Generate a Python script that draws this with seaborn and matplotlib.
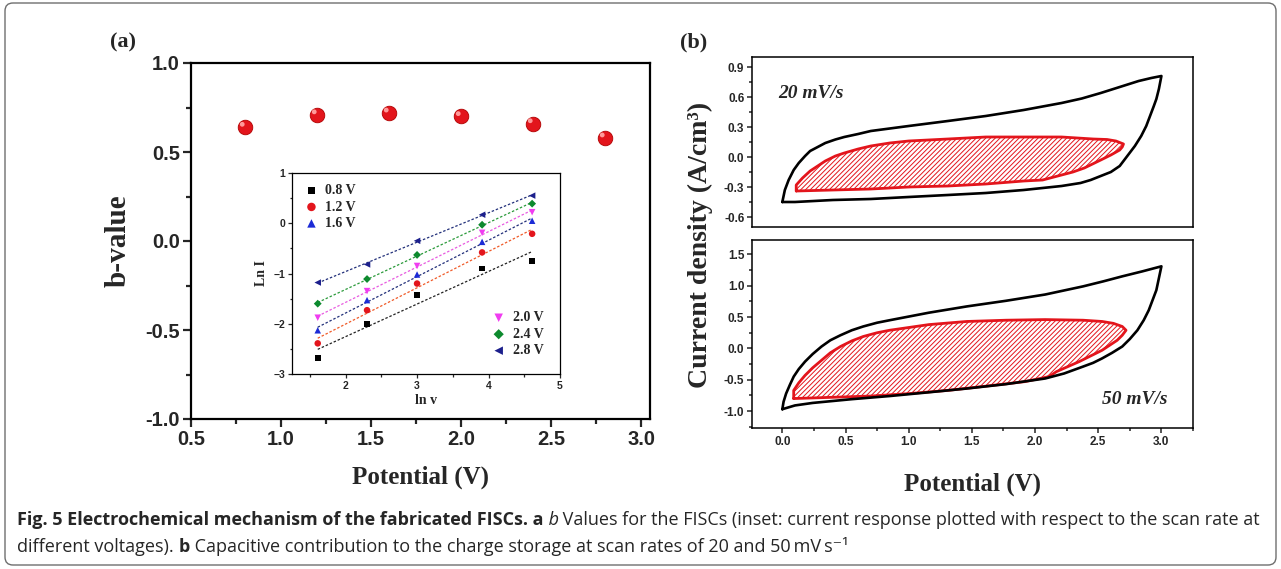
import matplotlib
matplotlib.use("Agg")
import matplotlib.pyplot as plt
import matplotlib.transforms as mtransforms
from matplotlib.patches import FancyBboxPatch
from matplotlib.ticker import MultipleLocator, FormatStrFormatter
import seaborn as sns
import numpy as np

# ---------------- data ----------------
# (a) b-value vs potential
potential_v = [0.8, 1.2, 1.6, 2.0, 2.4, 2.8]
b_value = [0.64, 0.71, 0.72, 0.70, 0.66, 0.58]

# inset: ln I vs ln v (scan rates 5, 10, 20, 50, 100 mV/s)
ln_v = [1.61, 2.30, 3.00, 3.91, 4.61]
ln_i_08 = [-2.68, -2.00, -1.43, -0.90, -0.75]
ln_i_12 = [-2.39, -1.73, -1.20, -0.58, -0.21]
ln_i_16 = [-2.13, -1.53, -1.02, -0.37, 0.05]
ln_i_20 = [-1.88, -1.35, -0.85, -0.19, 0.22]
ln_i_24 = [-1.60, -1.11, -0.63, -0.03, 0.39]
ln_i_28 = [-1.18, -0.82, -0.35, 0.17, 0.55]
inset_labels = ["0.8 V", "1.2 V", "1.6 V", "2.0 V", "2.4 V", "2.8 V"]

# (b) CV loops, 20 mV/s (total current and capacitive part), traced around the loop
pot_20_total = [0.0, 0.02, 0.05, 0.09, 0.13, 0.18, 0.22, 0.28, 0.34, 0.42, 0.49, 0.60, 0.70, 0.85, 1.0,
                1.31, 1.61, 1.91, 2.21, 2.37, 2.52, 2.67, 2.82, 2.92, 3.0,
                2.98, 2.96, 2.94, 2.91, 2.88, 2.84, 2.79, 2.73, 2.67, 2.60, 2.52, 2.44, 2.36, 2.21,
                1.91, 1.61, 1.31, 1.0, 0.70, 0.40, 0.10, 0.0]
cur_20_total = [-0.45, -0.33, -0.23, -0.13, -0.06, 0.01, 0.06, 0.10, 0.14, 0.175, 0.20, 0.23, 0.26, 0.285, 0.31,
                0.36, 0.41, 0.47, 0.54, 0.585, 0.64, 0.70, 0.76, 0.79, 0.81,
                0.68, 0.58, 0.51, 0.41, 0.31, 0.21, 0.11, 0.01, -0.09, -0.15, -0.19, -0.23, -0.26, -0.29,
                -0.33, -0.36, -0.38, -0.40, -0.42, -0.43, -0.45, -0.45]
pot_20_cap = [0.11, 0.11, 0.16, 0.22, 0.28, 0.34, 0.42, 0.49, 0.60, 0.70, 0.85, 1.0, 1.31, 1.61, 1.91,
              2.21, 2.46, 2.57, 2.64, 2.70,
              2.69, 2.67, 2.60, 2.52, 2.39, 2.30, 2.21, 2.06, 1.91, 1.61, 1.31, 1.0, 0.70, 0.40, 0.11]
cur_20_cap = [-0.34, -0.28, -0.21, -0.14, -0.09, -0.04, 0.01, 0.04, 0.08, 0.11, 0.14, 0.16, 0.18, 0.20, 0.20,
              0.20, 0.18, 0.175, 0.16, 0.13,
              0.10, 0.07, 0.02, -0.03, -0.11, -0.15, -0.18, -0.23, -0.24, -0.27, -0.29, -0.30, -0.32, -0.33, -0.34]

# (b) CV loops, 50 mV/s
pot_50_total = [0.0, 0.01, 0.03, 0.06, 0.09, 0.13, 0.18, 0.24, 0.31, 0.38, 0.46, 0.55, 0.64, 0.75, 0.85,
                1.16, 1.46, 1.77, 2.08, 2.38, 2.54, 2.69, 2.85, 3.0,
                2.98, 2.96, 2.93, 2.90, 2.86, 2.81, 2.75, 2.69, 2.61, 2.53, 2.46, 2.38, 2.23, 2.08,
                1.77, 1.46, 1.16, 0.85, 0.55, 0.24, 0.10, 0.0]
cur_50_total = [-0.97, -0.85, -0.72, -0.58, -0.45, -0.33, -0.21, -0.09, 0.03, 0.13, 0.21, 0.29, 0.35, 0.41, 0.45,
                0.57, 0.67, 0.76, 0.86, 0.99, 1.07, 1.15, 1.23, 1.31,
                1.12, 0.93, 0.77, 0.61, 0.45, 0.29, 0.15, 0.03, -0.07, -0.16, -0.23, -0.29, -0.40, -0.48,
                -0.57, -0.64, -0.70, -0.76, -0.81, -0.87, -0.91, -0.97]
pot_50_cap = [0.09, 0.09, 0.13, 0.18, 0.24, 0.31, 0.38, 0.46, 0.55, 0.64, 0.75, 0.85, 1.16, 1.46, 1.77,
              2.08, 2.38, 2.53, 2.62, 2.69, 2.72,
              2.69, 2.65, 2.53, 2.35, 2.17, 2.11, 1.92, 1.62, 1.31, 1.01, 0.70, 0.40, 0.09]
cur_50_cap = [-0.80, -0.67, -0.55, -0.43, -0.31, -0.19, -0.07, 0.03, 0.12, 0.19, 0.25, 0.29, 0.38, 0.43, 0.45,
              0.46, 0.45, 0.43, 0.40, 0.35, 0.29,
              0.21, 0.13, -0.03, -0.21, -0.37, -0.45, -0.53, -0.60, -0.67, -0.72, -0.76, -0.78, -0.80]

# ---------------- style ----------------
sns.set_theme(style="ticks")
plt.rcParams["font.family"] = ["Liberation Sans", "DejaVu Sans"]
plt.rcParams["font.weight"] = "bold"
plt.rcParams["hatch.linewidth"] = 0.7
plt.rcParams["xtick.direction"] = "out"
plt.rcParams["ytick.direction"] = "out"

SERIF = ["Liberation Serif", "DejaVu Serif"]
RED = "#e3151c"
W, H = 1281, 569

fig = plt.figure(figsize=(W / 100, H / 100), dpi=100)


def box(x0, y0, x1, y1):
    # pixel box (top-left origin) -> figure fraction rect
    return [x0 / W, 1 - y1 / H, (x1 - x0) / W, (y1 - y0) / H]


def style_axis(ax, lw, major, minor, size):
    for s in ax.spines.values():
        s.set_linewidth(lw)
        s.set_color("black")
    ax.tick_params(which="major", length=major, width=lw, labelsize=size, pad=2)
    ax.tick_params(which="minor", length=minor, width=lw)
    ax.tick_params(top=False, right=False, which="both")
    for lab in ax.get_xticklabels() + ax.get_yticklabels():
        lab.set_fontweight("bold")


# ---------------- (a) main ----------------
ax_a = fig.add_axes(box(191, 63, 650, 419))
sns.scatterplot(x=potential_v, y=b_value, ax=ax_a, color=RED, s=110, edgecolor="#b00000",
                linewidth=0.6, zorder=3, legend=False)
shine = mtransforms.offset_copy(ax_a.transData, fig=fig, x=-2, y=2, units="points")
ax_a.scatter(potential_v, b_value, s=12, color="#ff9a9a", edgecolor="none", transform=shine, zorder=4)
ax_a.set_xlim(0.5, 3.05)
ax_a.set_ylim(-1.0, 1.0)
ax_a.xaxis.set_major_locator(MultipleLocator(0.5))
ax_a.xaxis.set_minor_locator(MultipleLocator(0.25))
ax_a.yaxis.set_major_locator(MultipleLocator(0.5))
ax_a.yaxis.set_minor_locator(MultipleLocator(0.25))
ax_a.xaxis.set_major_formatter(FormatStrFormatter("%.1f"))
ax_a.yaxis.set_major_formatter(FormatStrFormatter("%.1f"))
style_axis(ax_a, 1.6, 6, 3.5, 14.5)
ax_a.set_xlabel("Potential (V)", family=SERIF, fontsize=18, fontweight="bold", labelpad=12)
ax_a.set_ylabel("b-value", family=SERIF, fontsize=21, fontweight="bold", labelpad=10)
fig.text(110 / W, 1 - 42 / H, "(a)", family=SERIF, fontsize=16, fontweight="bold", va="center")

# ---------------- (a) inset ----------------
ax_in = fig.add_axes(box(292, 173, 560, 374))
inset_series = [ln_i_08, ln_i_12, ln_i_16, ln_i_20, ln_i_24, ln_i_28]
mk = ["s", "o", "^", "v", "D", "<"]
mcol = ["#000000", "#e3151c", "#1c2bd6", "#f03cf0", "#0d8a2e", "#1c1f8c"]
lcol = ["#222222", "#f05a28", "#22307a", "#e85ae0", "#2a9a3a", "#22307a"]
msize = [16, 22, 22, 22, 16, 22]
handles = []
xfit = np.array([ln_v[0], ln_v[-1]])
for ys, m, c, lc, ms in zip(inset_series, mk, mcol, lcol, msize):
    k, b = np.polyfit(ln_v, ys, 1)
    sns.lineplot(x=xfit, y=k * xfit + b, ax=ax_in, color=lc, lw=0.9, linestyle=(0, (2, 1.5)), legend=False)
    sns.scatterplot(x=ln_v, y=ys, ax=ax_in, marker=m, color=c, s=ms, edgecolor="none", zorder=3, legend=False)
    handles.append(ax_in.collections[-1])
ax_in.set_xlim(1.25, 5.0)
ax_in.set_ylim(-3, 1)
ax_in.xaxis.set_major_locator(MultipleLocator(1))
ax_in.xaxis.set_minor_locator(MultipleLocator(0.5))
ax_in.yaxis.set_major_locator(MultipleLocator(1))
ax_in.yaxis.set_minor_locator(MultipleLocator(0.5))
style_axis(ax_in, 0.9, 3, 1.8, 7.5)
ax_in.set_xlabel("ln v", family=SERIF, fontsize=10, fontweight="bold", labelpad=2)
ax_in.set_ylabel("Ln I", family=SERIF, fontsize=10, fontweight="bold", labelpad=4)
leg_font = {"family": SERIF, "weight": "bold", "size": 10}
leg1 = ax_in.legend(handles[:3], inset_labels[:3], loc="upper left", frameon=False, prop=leg_font,
                    handletextpad=0.4, borderaxespad=0.4, labelspacing=0.25, handlelength=1.2,
                    markerscale=1.3)
ax_in.add_artist(leg1)
ax_in.legend(handles[3:], inset_labels[3:], loc="lower right", frameon=False, prop=leg_font,
             handletextpad=0.4, borderaxespad=0.8, labelspacing=0.25, handlelength=1.2, markerscale=1.3)

# ---------------- (b) CV loops ----------------
ax_b1 = fig.add_axes(box(752, 57, 1193, 227))
ax_b2 = fig.add_axes(box(752, 240, 1193, 428), sharex=ax_b1)

for ax, pt, ct, pc, cc in [(ax_b1, pot_20_total, cur_20_total, pot_20_cap, cur_20_cap),
                           (ax_b2, pot_50_total, cur_50_total, pot_50_cap, cur_50_cap)]:
    ax.fill(pc, cc, facecolor="white", edgecolor=RED, hatch="///////", linewidth=0, zorder=1)
    sns.lineplot(x=pc, y=cc, ax=ax, sort=False, estimator=None, color=RED, lw=2.0, zorder=2)
    sns.lineplot(x=pt, y=ct, ax=ax, sort=False, estimator=None, color="black", lw=1.9, zorder=3)

ax_b1.set_xlim(-0.24, 3.25)
ax_b1.set_ylim(-0.7, 1.0)
ax_b1.yaxis.set_major_locator(MultipleLocator(0.3))
ax_b1.yaxis.set_minor_locator(MultipleLocator(0.15))
ax_b1.yaxis.set_major_formatter(FormatStrFormatter("%.1f"))
ax_b2.set_ylim(-1.27, 1.73)
ax_b2.xaxis.set_major_locator(MultipleLocator(0.5))
ax_b2.xaxis.set_minor_locator(MultipleLocator(0.25))
ax_b2.xaxis.set_major_formatter(FormatStrFormatter("%.1f"))
ax_b2.yaxis.set_major_locator(MultipleLocator(0.5))
ax_b2.yaxis.set_minor_locator(MultipleLocator(0.25))
ax_b2.yaxis.set_major_formatter(FormatStrFormatter("%.1f"))
for ax in (ax_b1, ax_b2):
    style_axis(ax, 1.1, 3.5, 2, 8.5)
    ax.set_xlabel("")
    ax.set_ylabel("")
ax_b1.tick_params(axis="x", which="both", bottom=False, labelbottom=False)

ax_b1.text(-0.03, 0.64, "20 mV/s", family=SERIF, style="italic", fontweight="bold", fontsize=14,
           va="center", ha="left")
ax_b2.text(3.05, -0.81, "50 mV/s", family=SERIF, style="italic", fontweight="bold", fontsize=14,
           va="center", ha="right")
ax_b2.set_xlabel("Potential (V)", family=SERIF, fontsize=18, fontweight="bold", labelpad=18)
fig.text(700 / W, 1 - 245 / H, "Current density (A/cm\u00b3)", family=SERIF, fontsize=20,
         fontweight="bold", rotation=90, ha="center", va="center")
fig.text(680 / W, 1 - 42 / H, "(b)", family=SERIF, fontsize=16, fontweight="bold", va="center")

# ---------------- frame and caption ----------------
cap = fig.add_axes([0, 0, 1, 1], zorder=-5)
cap.set_xlim(0, W)
cap.set_ylim(H, 0)
cap.axis("off")
cap.add_patch(FancyBboxPatch((5, 3), W - 10, H - 7, boxstyle="round,pad=0,rounding_size=8",
                             facecolor="none", edgecolor="#6e6e6e", lw=1.0))

CAP_FONT = ["Open Sans", "DejaVu Sans"]
cap_size = 13


def caption_line(parts, x, y):
    first, st = parts[0]
    t = cap.annotate(first, xy=(x, y), xycoords="data", va="baseline", ha="left",
                     family=CAP_FONT, fontsize=cap_size, **st)
    for s, st in parts[1:]:
        t = cap.annotate(s, xy=(1, 0), xycoords=t, va="bottom", ha="left",
                         family=CAP_FONT, fontsize=cap_size, **st)


B = {"fontweight": "bold"}
N = {"fontweight": "normal"}
I = {"fontweight": "normal", "style": "italic"}
caption_line([("Fig. 5 Electrochemical mechanism of the fabricated FISCs. a", B), (" b", I),
              (" Values for the FISCs (inset: current response plotted with respect to the scan rate at", N)],
             17, 525)
caption_line([("different voltages). ", N), ("b", B),
              (" Capacitive contribution to the charge storage at scan rates of 20 and 50\u2009mV\u2009s\u207b\u00b9", N)],
             17, 552)

fig.savefig("out.png", dpi=100)
